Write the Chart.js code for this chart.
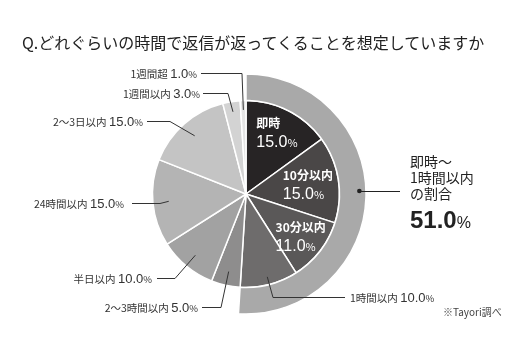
<!DOCTYPE html>
<html lang="ja">
<head>
<meta charset="utf-8">
<script src="https://cdn.jsdelivr.net/npm/chart.js@4"></script>
<style>
  html, body { margin: 0; padding: 0; background: #fff; }
  #wrap { position: relative; width: 528px; height: 352px; }
  #title {
    position: absolute; left: 22px; top: 32px;
    font: 16px/20px "Noto Sans CJK JP", sans-serif; color: #222;
    white-space: nowrap;
  }
  canvas { position: absolute; left: 0; top: 0; }
</style>
</head>
<body>
<div id="wrap">
  <canvas id="pieChart" width="528" height="352"></canvas>
  <div id="title">Q.どれぐらいの時間で返信が返ってくることを想定していますか</div>
</div>
<script>
/* DATA */
const categories = ['即時', '10分以内', '30分以内', '1時間以内', '2〜3時間以内', '半日以内', '24時間以内', '2〜3日以内', '1週間以内', '1週間超'];
const shares = [15.0, 15.0, 11.0, 10.0, 5.0, 10.0, 15.0, 15.0, 3.0, 1.0];
const ringLabels = ['即時〜1時間以内', 'その他'];
const ringShares = [51.0, 49.0];
const ringCaption = ['即時〜', '1時間以内', 'の割合'];

/* STYLE */
const sliceColors = ['#272425', '#4a4747', '#5a5858', '#6e6c6c', '#8e8d8d', '#a2a2a2', '#b4b4b4', '#c4c4c4', '#d3d3d3', '#e4e4e4'];
const ringColor = '#a9a9a9';
const JP = '"Noto Sans CJK JP", sans-serif';
const NUM = '"Liberation Sans", Arial, sans-serif';

// posisi label per slice (r = rasio jari-jari titik anchor)
const labelLayout = [
  { inside: true, r: 0.74 },
  { inside: true, r: 0.67 },
  { inside: true, r: 0.74 },
  { side: 'right', r: 0.915, textX: 350, lineX: 345, elbowX: 273, y: 297 },
  { side: 'left', r: 0.85, textX: 198, lineX: 202, elbowX: 221, y: 307 },
  { side: 'left', r: 0.85, textX: 152, lineX: 157, elbowX: 175, y: 278 },
  { side: 'left', r: 0.83, textX: 124, lineX: 132, elbowX: 160, y: 203 },
  { side: 'left', r: 0.83, textX: 143, lineX: 147, elbowX: 170, y: 121 },
  { side: 'left', r: 0.89, textX: 200, lineX: 203, elbowX: 228, y: 93 },
  { side: 'left', r: 0.90, textX: 197, lineX: 201, elbowX: 242, y: 73 },
];

function drawParts(ctx, parts, x, y, align) {
  let total = 0;
  parts.forEach(p => { ctx.font = p[1]; total += ctx.measureText(p[0]).width; });
  let cx = align === 'right' ? x - total : x;
  ctx.textAlign = 'left';
  parts.forEach(p => {
    ctx.font = p[1];
    ctx.fillText(p[0], cx, y);
    cx += ctx.measureText(p[0]).width;
  });
  return total;
}

const labelPlugin = {
  id: 'sliceLabels',
  afterDatasetsDraw(chart) {
    const ctx = chart.ctx;
    const arcs = chart.getDatasetMeta(1).data;
    ctx.save();
    ctx.textBaseline = 'alphabetic';
    arcs.forEach((arc, i) => {
      const p = arc.getProps(['x', 'y', 'startAngle', 'endAngle', 'outerRadius'], true);
      const mid = (p.startAngle + p.endAngle) / 2;
      const lay = labelLayout[i];
      const ax = p.x + Math.cos(mid) * p.outerRadius * lay.r;
      const ay = p.y + Math.sin(mid) * p.outerRadius * lay.r;
      const num = shares[i].toFixed(1);

      if (lay.inside) {
        // LABEL PUTIH DI DALAM SLICE
        ctx.fillStyle = '#fff';
        ctx.font = 'bold 12px ' + JP;
        const nameW = ctx.measureText(categories[i]).width;
        ctx.font = '16px ' + NUM;
        let valW = ctx.measureText(num).width;
        ctx.font = '11px ' + JP;
        valW += ctx.measureText('%').width + 1;
        const left = ax - Math.max(nameW, valW) / 2;
        ctx.font = 'bold 12px ' + JP;
        ctx.textAlign = 'left';
        ctx.fillText(categories[i], left, ay - 4);
        drawParts(ctx, [[num, '16px ' + NUM], ['%', '11px ' + JP]], left, ay + 15, 'left');
      } else {
        // GARIS PENUNJUK + LABEL DI LUAR
        ctx.strokeStyle = '#333';
        ctx.lineWidth = 1;
        ctx.beginPath();
        ctx.moveTo(lay.lineX, lay.y + 0.5);
        ctx.lineTo(lay.elbowX, lay.y + 0.5);
        ctx.lineTo(ax, ay);
        ctx.stroke();
        ctx.fillStyle = '#333';
        drawParts(ctx, [
          [categories[i], '10.5px ' + JP],
          [' ', '10.5px ' + JP],
          [num, '13px ' + NUM],
          ['%', '9.5px ' + JP],
        ], lay.textX, lay.y + 5, lay.side === 'left' ? 'right' : 'left');
      }
    });

    // ANOTASI RING 51%
    const ring = chart.getDatasetMeta(0).data[0].getProps(['x', 'y', 'innerRadius', 'outerRadius'], true);
    const dotX = ring.x + ring.innerRadius + 0.75 * (ring.outerRadius - ring.innerRadius);
    const dotY = ring.y - 3;
    ctx.fillStyle = '#222';
    ctx.beginPath();
    ctx.arc(dotX, dotY, 2.3, 0, Math.PI * 2);
    ctx.fill();
    ctx.strokeStyle = '#222';
    ctx.lineWidth = 1;
    ctx.beginPath();
    ctx.moveTo(dotX, dotY + 0.5);
    ctx.lineTo(400, dotY + 0.5);
    ctx.stroke();

    ctx.fillStyle = '#222';
    ctx.textAlign = 'left';
    ctx.font = '14px ' + JP;
    ringCaption.forEach((t, k) => ctx.fillText(t, 410, 167 + k * 16));
    drawParts(ctx, [[ringShares[0].toFixed(1), 'bold 24px ' + NUM], ['%', '16px ' + NUM]], 410, 228, 'left');

    ctx.fillStyle = '#444';
    ctx.font = '10px ' + JP;
    ctx.fillText('※Tayori調べ', 443, 316);
    ctx.restore();
  }
};

// MEMBUAT PIE CHART + RING LUAR
function createPieChart() {
  const ctx = document.getElementById('pieChart').getContext('2d');
  return new Chart(ctx, {
    type: 'pie',
    data: {
      labels: categories,
      datasets: [
        {
          label: 'ring',
          data: ringShares,
          backgroundColor: [ringColor, 'rgba(0,0,0,0)'],
          borderColor: ['#fff', 'rgba(0,0,0,0)'],
          borderWidth: [1.5, 0],
          weight: 26.5,
        },
        {
          label: 'shares',
          data: shares,
          backgroundColor: sliceColors,
          borderColor: '#fff',
          borderWidth: 1.5,
          weight: 93.5,
        },
      ],
    },
    options: {
      responsive: false,
      animation: false,
      events: [],
      radius: 120,
      layout: { padding: { left: 0, right: 36, top: 36, bottom: 0 } },
      plugins: {
        legend: { display: false },
        tooltip: { enabled: false },
      },
    },
    plugins: [labelPlugin],
  });
}
createPieChart();
</script>
</body>
</html>
